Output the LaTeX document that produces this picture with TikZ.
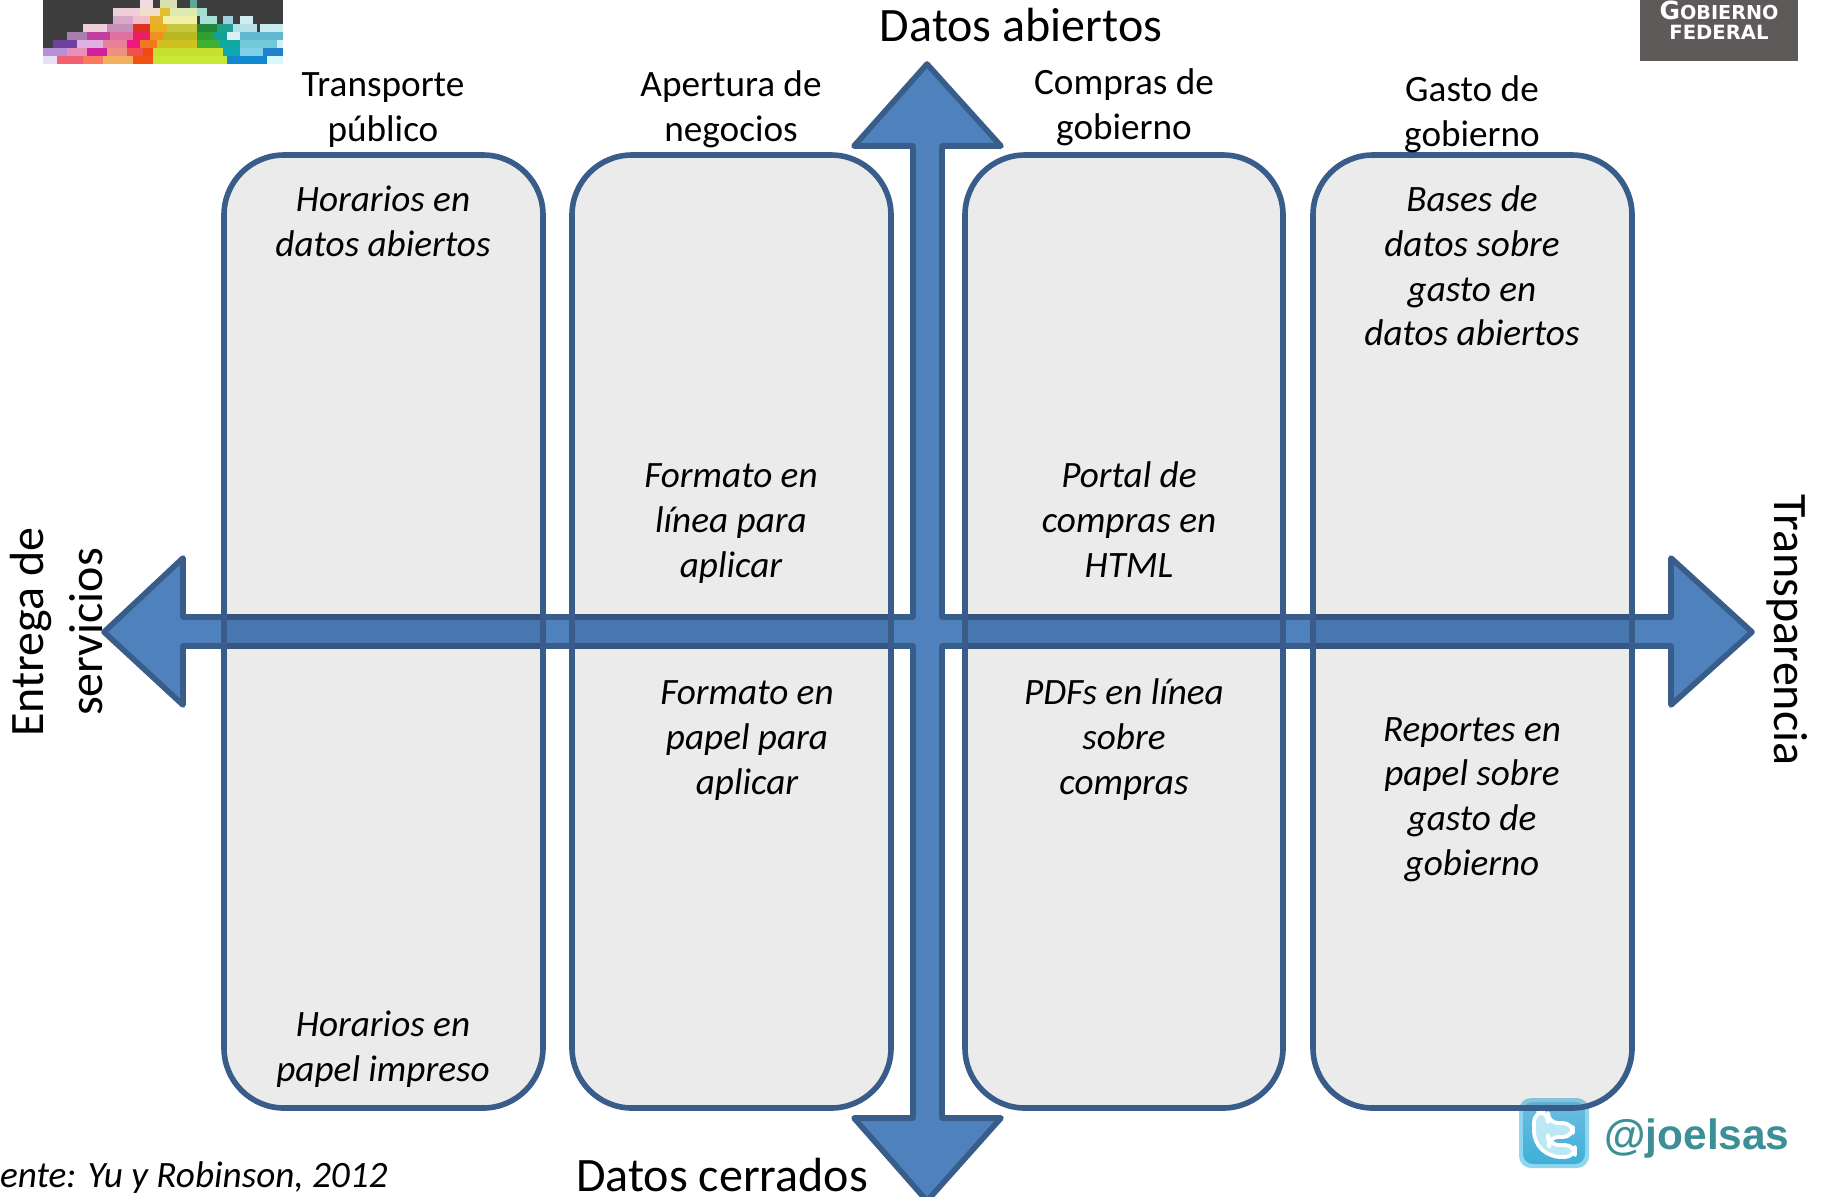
\documentclass[tikz,border=0pt]{standalone}
\usepackage{fontspec}
\setmainfont{Carlito}
\newfontfamily\handlefont{Liberation Sans}
\newfontfamily\fedfont{DejaVu Sans}
\usetikzlibrary{shapes.geometric}
\definecolor{arrowfill}{HTML}{4F81BD}
\definecolor{arrowline}{HTML}{385D8A}
\definecolor{boxfill}{HTML}{EBEBEB}
\definecolor{logodark}{HTML}{3E3E3E}
\definecolor{fedgray}{HTML}{5E5A59}
\definecolor{handle}{HTML}{3C8F96}
\definecolor{birdrim}{HTML}{8FD6EE}
\definecolor{birdtop}{HTML}{6CBDE0}
\definecolor{birdlow}{HTML}{3FB0D8}
\definecolor{birdpale}{HTML}{BCE8F6}
\tikzset{
  x=0.5pt,y=-0.5pt,
  lanefill/.style={fill=boxfill,rounded corners=30pt,blend mode=multiply},
  lanestroke/.style={line width=2.8pt,draw=arrowline,rounded corners=30pt},
  axisarrow/.style={line width=2.8pt,draw=arrowline,fill=arrowfill,line join=round},
  lanetitle/.style={align=center,font=\fontsize{18.6}{22.4}\selectfont,inner sep=0pt},
  lanenote/.style={align=center,font=\fontsize{18.6}{22.4}\selectfont\itshape,inner sep=0pt},
  axislabel/.style={align=center,font=\fontsize{24}{29.5}\selectfont,inner sep=0pt}
}
\begin{document}
\begin{tikzpicture}
\useasboundingbox (0,0) rectangle (1821,1196);
\fill[white] (0,0) rectangle (1821,1196);
\clip (0,0) rectangle (1821,1196);

% mosaic logo (drawn in 3x coordinates of the crop)
\fill[logodark] (43,0) rectangle (283,64);
\begin{scope}[x=0.16667pt,y=-0.16667pt]
\foreach \ra/\rb/\rr/\rc in {
 420/460/0/EFDCE0,480/530/0/D8E0B0,570/590/0/5FA59A,
 340/420/1/EFCFDC,420/480/1/F2DFC8,480/510/1/E0C030,510/590/1/DDEBB0,590/620/1/A5DCD0,
 340/400/2/D8A8C8,400/450/2/F0C0C8,450/490/2/E8B030,490/590/2/F0F0A8,600/650/2/A8E0D8,670/700/2/A0D0E0,720/760/2/D0ECF0,
 250/320/3/EDD0DC,320/400/3/C890B8,400/450/3/E03020,450/500/3/E8B020,500/590/3/C8C840,590/650/3/208838,650/700/3/20A090,700/770/3/B8E0E8,780/850/3/C8ECF0,
 200/260/4/A880B0,260/330/4/C040A0,330/400/4/E070A0,400/450/4/E82060,450/490/4/F09020,490/590/4/B8B820,590/640/4/30A030,640/680/4/10A098,680/720/4/D8F0F4,720/850/4/60B8D0,
 160/230/5/7040A0,230/310/5/E0B0E0,310/380/5/E88098,380/420/5/F01880,420/470/5/F07820,470/590/5/D0C020,590/660/5/40B030,660/720/5/10A8A0,720/830/5/70C8D8,830/850/5/D0F0F4,
 130/200/6/B890D8,200/260/6/E890B8,260/320/6/D020A0,320/380/6/F09080,380/430/6/F05050,430/460/6/F04810,460/670/6/C8E030,670/720/6/10A8B0,720/790/6/80D0E8,790/850/6/2080C8,
 130/170/7/E8E0F0,170/250/7/F06070,250/310/7/F87860,310/400/7/F0B060,400/460/7/F05010,460/680/7/C8E838,680/800/7/1088D0,800/850/7/D8F8FC}{
  \definecolor{tilec}{HTML}{\rc}
  \pgfmathsetmacro{\ya}{\rr*24}
  \pgfmathsetmacro{\yb}{\rr*24+24.5}
  \fill[tilec] (\ra,\ya) rectangle (\rb,\yb);
}
\end{scope}

% government mark
\fill[fedgray] (1640,0) rectangle (1798,61);
\node[inner sep=0pt,text=white,font=\fedfont\bfseries\fontsize{9.6}{10.2}\selectfont,align=center] (gobierno) at (1719,20) {{\fontsize{12.5}{10.2}\selectfont G}OBIERNO\\{\fontsize{9.8}{10.2}\selectfont FEDERAL}};

% twitter icon
\fill[birdrim,rounded corners=6pt] (1519,1098) rectangle (1589,1168);
\shade[top color=birdtop,bottom color=birdlow,rounded corners=5pt] (1523,1102) rectangle (1585,1164);
\draw[white,line width=1.9pt,fill=birdpale,rounded corners=5pt,line join=round] (1534,1112) -- (1548,1112) -- (1548,1123) -- (1573,1123) -- (1573,1137) -- (1548,1137) -- (1549,1145) -- (1575,1145) -- (1575,1157) -- (1550,1157) -- (1534,1142) -- cycle;
\node[anchor=west,inner sep=0pt,text=handle,font=\handlefont\bfseries\fontsize{21.2}{26}\selectfont] (handle) at (1604,1139) {@joelsas};

% axes
\draw[axisarrow]
  (927,64) -- (1001,146) -- (942,146) -- (942,617) -- (1671,617) -- (1671,558)
  -- (1752,632) -- (1671,705) -- (1671,646) -- (942,646) -- (942,1118) -- (1001,1118)
  -- (927,1201) -- (854,1118) -- (913,1118) -- (913,646) -- (183,646) -- (183,705)
  -- (104,632) -- (183,558) -- (183,617) -- (913,617) -- (913,146) -- (854,146) -- cycle;

% lanes
\fill[lanefill] (224,155) rectangle (543,1108);
\fill[lanefill] (572,155) rectangle (891,1108);
\fill[lanefill] (965,155) rectangle (1283,1108);
\fill[lanefill] (1313,155) rectangle (1632,1108);
\draw[lanestroke] (224,155) rectangle (543,1108);
\draw[lanestroke] (572,155) rectangle (891,1108);
\draw[lanestroke] (965,155) rectangle (1283,1108);
\draw[lanestroke] (1313,155) rectangle (1632,1108);

% lane titles
\node[lanetitle] (t1) at (383,110) {Transporte\\público};
\node[lanetitle] (t2) at (731,109.5) {Apertura de\\negocios};
\node[lanetitle] (t3) at (1124,107) {Compras de\\gobierno};
\node[lanetitle] (t4) at (1472,114) {Gasto de\\gobierno};

% notes
\node[lanenote] (n1) at (383,221.5) {Horarios en\\datos abiertos};
\node[lanenote] (n2) at (383,1049) {Horarios en\\papel impreso};
\node[lanenote] (n3) at (731,523.5) {Formato en\\línea para\\aplicar};
\node[lanenote] (n4) at (747,740.5) {Formato en\\papel para\\aplicar};
\node[lanenote] (n5) at (1129,519.5) {Portal de\\compras en\\HTML};
\node[lanenote] (n6) at (1124,739.5) {PDFs en línea\\sobre\\compras};
\node[lanenote] (n7) at (1472,266) {Bases de\\datos sobre\\gasto en\\datos abiertos};
\node[lanenote] (n8) at (1472,799.5) {Reportes en\\papel sobre\\gasto de\\gobierno};

% axis labels
\node[axislabel] (top) at (1021,25) {Datos abiertos};
\node[axislabel] (bottom) at (722,1175) {Datos cerrados};
\node[axislabel,rotate=90] (left) at (56.5,632) {Entrega de\\servicios};
\node[axislabel,rotate=-90] (right) at (1787,630) {Transparencia};
\node[anchor=east,inner sep=0pt,font=\fontsize{18.6}{22}\selectfont\itshape] (source) at (388,1178) {Fuente: Yu y Robinson, 2012};
\end{tikzpicture}
\end{document}
